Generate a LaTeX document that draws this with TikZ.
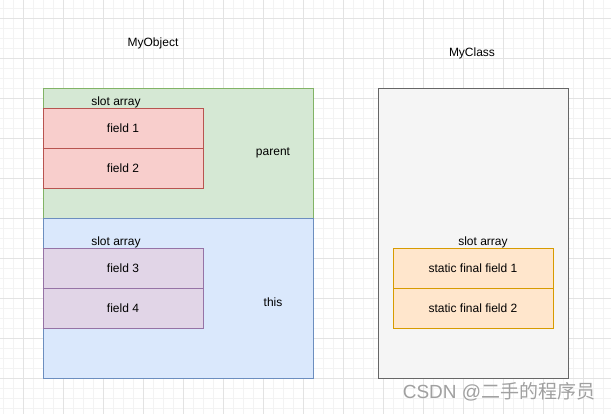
\documentclass[tikz,border=0pt]{standalone}
\usepackage{fontspec}
\setmainfont{Liberation Sans}
\newfontfamily\cjkfont{Noto Sans CJK SC}
\definecolor{gridminor}{HTML}{F3F3F3}
\definecolor{gridmajor}{HTML}{E3E3E3}
\definecolor{gfill}{HTML}{D5E8D4}\definecolor{gline}{HTML}{82B366}
\definecolor{bfill}{HTML}{DAE8FC}\definecolor{bline}{HTML}{6C8EBF}
\definecolor{rfill}{HTML}{F8CECC}\definecolor{rline}{HTML}{B85450}
\definecolor{pfill}{HTML}{E1D5E7}\definecolor{pline}{HTML}{9673A6}
\definecolor{ofill}{HTML}{FFE6CC}\definecolor{oline}{HTML}{D79B00}
\definecolor{cfill}{HTML}{F5F5F5}\definecolor{cline}{HTML}{666666}
\definecolor{wm}{HTML}{A0A0A0}
\begin{document}
\begin{tikzpicture}[x=1pt,y=-1pt,
  lbl/.style={font=\fontsize{12}{14}\selectfont, text=black, inner sep=0pt},
  box/.style={line width=0.8pt}]
\useasboundingbox (0,0) rectangle (611,414);
\fill[white] (0,0) rectangle (611,414);
% grid
\foreach \x in {3,13,...,611} \draw[gridminor,line width=0.6pt] (\x,0) -- (\x,414);
\foreach \y in {8,18,...,414} \draw[gridminor,line width=0.6pt] (0,\y) -- (611,\y);
\foreach \x in {23,63,...,611} \draw[gridmajor,line width=0.8pt] (\x,0) -- (\x,414);
\foreach \y in {18,58,...,414} \draw[gridmajor,line width=0.8pt] (0,\y) -- (611,\y);
% MyObject
\node[lbl] (objt) at (153,43) {MyObject};
\draw[box,fill=gfill,draw=gline] (43,88) rectangle (313,218);
\draw[box,fill=bfill,draw=bline] (43,218) rectangle (313,378);
\node[lbl] (sa1) at (116,102) {slot array};
\draw[box,fill=rfill,draw=rline] (43,108) rectangle (203,148);
\draw[box,fill=rfill,draw=rline] (43,148) rectangle (203,188);
\node[lbl] (f1) at (123,128) {field 1};
\node[lbl] (f2) at (123,168) {field 2};
\node[lbl] (par) at (273,153) {parent};
\node[lbl] (sa2) at (116,242) {slot array};
\draw[box,fill=pfill,draw=pline] (43,248) rectangle (203,288);
\draw[box,fill=pfill,draw=pline] (43,288) rectangle (203,328);
\node[lbl] (f3) at (123,268) {field 3};
\node[lbl] (f4) at (123,308) {field 4};
\node[lbl] (this) at (273,302) {this};
% MyClass
\node[lbl] (clst) at (472,53) {MyClass};
\draw[box,fill=cfill,draw=cline] (378,88) rectangle (568,378);
\node[lbl] (sa3) at (483,242) {slot array};
\draw[box,fill=ofill,draw=oline] (393,248) rectangle (553,288);
\draw[box,fill=ofill,draw=oline] (393,288) rectangle (553,328);
\node[lbl] (s1) at (473,268) {static final field 1};
\node[lbl] (s2) at (473,308) {static final field 2};
% watermark
\node[font=\fontsize{19}{22}\selectfont, text=wm, inner sep=0pt] (wmk) at (499,392) {CSDN @{\cjkfont 二手的程序员}};
\end{tikzpicture}
\end{document}
